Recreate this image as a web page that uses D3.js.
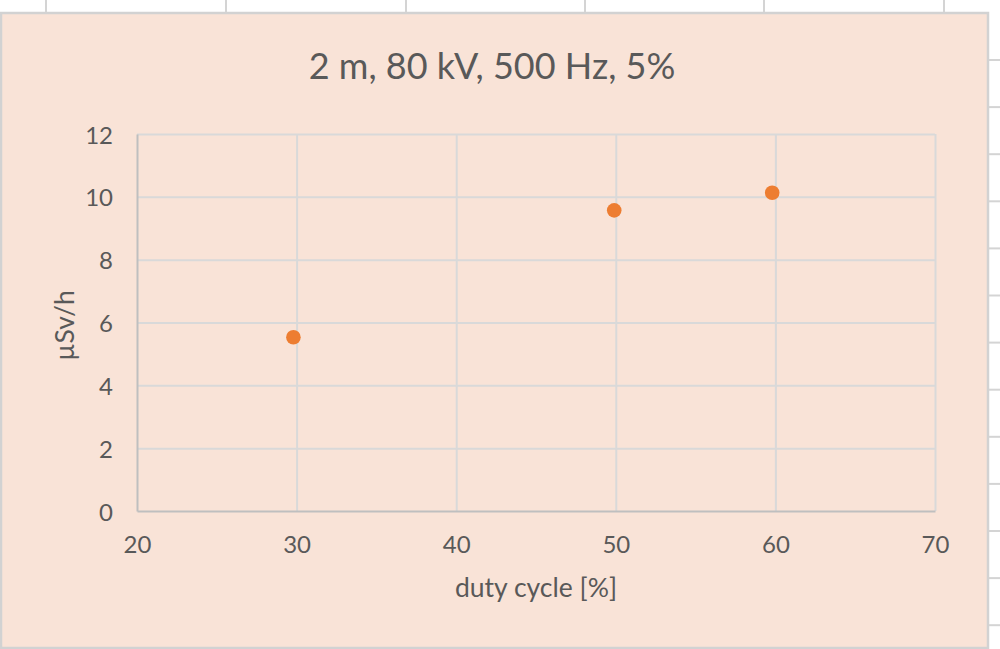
<!DOCTYPE html>
<html>
<head>
<meta charset="utf-8">
<script src="https://cdn.jsdelivr.net/npm/d3@7"></script>
<style>
  html, body { margin: 0; padding: 0; background: #ffffff; }
  svg { display: block; }
  text { font-family: Lato, "Open Sans", sans-serif; fill: #595959; }
</style>
</head>
<body>
<svg id="chart" width="1000" height="649"></svg>
<script>
// Measured dose rate vs. duty cycle (2 m, 80 kV, 500 Hz, 5%)
const dutyCycle = [29.8, 49.9, 59.8];
const doseRate = [5.53, 9.57, 10.13];
const xTicks = [20, 30, 40, 50, 60, 70];
const yTicks = [0, 2, 4, 6, 8, 10, 12];
const titleText = "2 m, 80 kV, 500 Hz, 5%";
const xTitle = "duty cycle [%]";
const yTitle = "µSv/h";

const W = 1000, H = 649;
const svg = d3.select("#chart");

// Worksheet cells behind the chart object
const sheet = svg.append("g");
sheet.append("rect").attr("width", W).attr("height", H).attr("fill", "#ffffff");
const colLines = [46, 226, 406, 585, 764, 944];
sheet.selectAll("line.col").data(colLines).join("line")
  .attr("x1", d => d).attr("x2", d => d).attr("y1", 0).attr("y2", 13)
  .attr("stroke", "#d4d4d4").attr("stroke-width", 2);
const rowLines = d3.range(60, 649, 47.1);
sheet.selectAll("line.row").data(rowLines).join("line")
  .attr("x1", 988).attr("x2", W).attr("y1", d => d).attr("y2", d => d)
  .attr("stroke", "#d4d4d4").attr("stroke-width", 2);

// Chart object
const chartBox = { x: 1, y: 13, w: 987, h: 635 };
svg.append("rect")
  .attr("x", chartBox.x).attr("y", chartBox.y)
  .attr("width", chartBox.w).attr("height", chartBox.h)
  .attr("fill", "#f9e3d7").attr("stroke", "#d2d2d2").attr("stroke-width", 2.5);

const plot = { left: 137, right: 935, top: 134, bottom: 511 };
const x = d3.scaleLinear().domain([20, 70]).range([plot.left, plot.right]);
const y = d3.scaleLinear().domain([0, 12]).range([plot.bottom, plot.top]);

// Gridlines
const grid = svg.append("g");
grid.append("g")
  .attr("transform", `translate(0,${plot.bottom})`)
  .call(d3.axisBottom(x).tickValues(xTicks.slice(1)).tickSize(-(plot.bottom - plot.top)).tickFormat(""))
  .call(g => g.select(".domain").remove())
  .call(g => g.selectAll("line").attr("stroke", "#d9d9d9").attr("stroke-width", 2));
grid.append("g")
  .attr("transform", `translate(${plot.left},0)`)
  .call(d3.axisLeft(y).tickValues(yTicks.slice(1)).tickSize(-(plot.right - plot.left)).tickFormat(""))
  .call(g => g.select(".domain").remove())
  .call(g => g.selectAll("line").attr("stroke", "#d9d9d9").attr("stroke-width", 2));

// Axes
const xAxis = svg.append("g")
  .attr("transform", `translate(0,${plot.bottom})`)
  .call(d3.axisBottom(x).tickValues(xTicks).tickSize(0).tickPadding(25).tickFormat(d3.format("d")));
xAxis.select(".domain").attr("stroke", "#bfbfbf").attr("stroke-width", 2);
xAxis.selectAll("text").attr("font-size", 24).style("fill", "#595959")
  .style("font-family", "Lato, 'Open Sans', sans-serif");

const yAxis = svg.append("g")
  .attr("transform", `translate(${plot.left},0)`)
  .call(d3.axisLeft(y).tickValues(yTicks).tickSize(0).tickPadding(24).tickFormat(d3.format("d")));
yAxis.select(".domain").attr("stroke", "#bfbfbf").attr("stroke-width", 2);
yAxis.selectAll("text").attr("font-size", 24).attr("dy", "0.38em").style("fill", "#595959")
  .style("font-family", "Lato, 'Open Sans', sans-serif");

// Points
svg.append("g").selectAll("circle")
  .data(dutyCycle.map((d, i) => ({ x: d, y: doseRate[i] })))
  .join("circle")
  .attr("cx", d => x(d.x)).attr("cy", d => y(d.y)).attr("r", 7.3)
  .attr("fill", "#ed7d31");

// Titles
svg.append("text")
  .attr("x", 492).attr("y", 79)
  .attr("text-anchor", "middle").attr("font-size", 36)
  .text(titleText);
svg.append("text")
  .attr("x", 536).attr("y", 597)
  .attr("text-anchor", "middle").attr("font-size", 26.5)
  .text(xTitle);
svg.append("text")
  .attr("transform", `translate(74,${(plot.top + plot.bottom) / 2 + 3}) rotate(-90)`)
  .attr("text-anchor", "middle").attr("font-size", 26.5)
  .text(yTitle);
</script>
</body>
</html>
